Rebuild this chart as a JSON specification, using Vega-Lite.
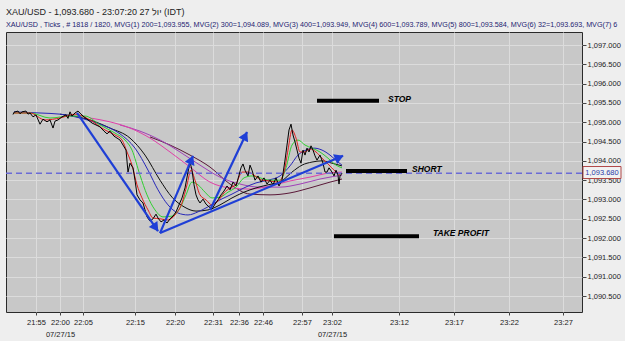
{
  "$schema": "https://vega.github.io/schema/vega-lite/v6.json",
  "width": 576,
  "height": 280,
  "autosize": "none",
  "padding": {"left": 6, "top": 32, "right": 43, "bottom": 29},
  "background": "#eeeeee",
  "config": {
    "view": {"fill": "#c8c8c8", "stroke": "#2a2a2a", "strokeWidth": 1},
    "font": "Liberation Sans"
  },
  "title": {
    "text": "\u00a0\u00a0\u00a0XAU/USD - 1,093.680 - 23:07:20 27 יול (IDT)",
    "subtitle": "XAU/USD , Ticks , # 1818 / 1820, MVG(1) 200=1,093.955, MVG(2) 300=1,094.089, MVG(3) 400=1,093.949, MVG(4) 600=1,093.789, MVG(5) 800=1,093.584, MVG(6) 32=1,093.693, MVG(7) 6",
    "anchor": "start",
    "frame": "group",
    "font": "Liberation Sans",
    "fontSize": 9,
    "fontWeight": "normal",
    "color": "#222222",
    "subtitleFont": "Liberation Sans",
    "subtitleFontSize": 7.2,
    "subtitleColor": "#1c1c70",
    "subtitlePadding": 4,
    "offset": 4
  },
  "datasets": {
    "ma": [
      {"s":"ma800","n":150,"v":1094.62},{"s":"ma800","n":170,"v":1094.41},{"s":"ma800","n":190,"v":1094.15},{"s":"ma800","n":210,"v":1093.84},{"s":"ma800","n":230,"v":1093.40},{"s":"ma800","n":250,"v":1093.14},{"s":"ma800","n":270,"v":1093.12},{"s":"ma800","n":290,"v":1093.17},{"s":"ma800","n":310,"v":1093.30},{"s":"ma800","n":330,"v":1093.45},{"s":"ma800","n":342,"v":1093.53},
      {"s":"ma600","n":120,"v":1094.93},{"s":"ma600","n":140,"v":1094.77},{"s":"ma600","n":160,"v":1094.54},{"s":"ma600","n":180,"v":1094.23},{"s":"ma600","n":200,"v":1093.89},{"s":"ma600","n":220,"v":1093.58},{"s":"ma600","n":240,"v":1093.40},{"s":"ma600","n":260,"v":1093.32},{"s":"ma600","n":280,"v":1093.32},{"s":"ma600","n":300,"v":1093.40},{"s":"ma600","n":320,"v":1093.53},{"s":"ma600","n":342,"v":1093.63},
      {"s":"ma400","n":90,"v":1095.11},{"s":"ma400","n":110,"v":1095.01},{"s":"ma400","n":130,"v":1094.85},{"s":"ma400","n":150,"v":1094.59},{"s":"ma400","n":170,"v":1094.23},{"s":"ma400","n":190,"v":1093.84},{"s":"ma400","n":210,"v":1093.45},{"s":"ma400","n":230,"v":1093.30},{"s":"ma400","n":250,"v":1093.27},{"s":"ma400","n":270,"v":1093.35},{"s":"ma400","n":290,"v":1093.48},{"s":"ma400","n":310,"v":1093.58},{"s":"ma400","n":330,"v":1093.69},{"s":"ma400","n":342,"v":1093.71},
      {"s":"ma300","n":60,"v":1095.21},{"s":"ma300","n":90,"v":1095.06},{"s":"ma300","n":110,"v":1094.85},{"s":"ma300","n":130,"v":1094.59},{"s":"ma300","n":145,"v":1094.15},{"s":"ma300","n":160,"v":1093.50},{"s":"ma300","n":172,"v":1093.06},{"s":"ma300","n":184,"v":1092.81},{"s":"ma300","n":196,"v":1092.70},{"s":"ma300","n":208,"v":1092.73},{"s":"ma300","n":220,"v":1092.86},{"s":"ma300","n":232,"v":1093.04},{"s":"ma300","n":244,"v":1093.19},{"s":"ma300","n":256,"v":1093.30},{"s":"ma300","n":268,"v":1093.38},{"s":"ma300","n":280,"v":1093.45},{"s":"ma300","n":292,"v":1093.71},{"s":"ma300","n":302,"v":1093.89},{"s":"ma300","n":312,"v":1093.97},{"s":"ma300","n":322,"v":1094.00},{"s":"ma300","n":332,"v":1093.94},{"s":"ma300","n":342,"v":1093.87},
      {"s":"ma200","n":14,"v":1095.27},{"s":"ma200","n":40,"v":1095.24},{"s":"ma200","n":60,"v":1095.21},{"s":"ma200","n":80,"v":1095.11},{"s":"ma200","n":100,"v":1094.95},{"s":"ma200","n":120,"v":1094.70},{"s":"ma200","n":135,"v":1094.33},{"s":"ma200","n":148,"v":1093.76},{"s":"ma200","n":158,"v":1093.25},{"s":"ma200","n":168,"v":1092.86},{"s":"ma200","n":178,"v":1092.65},{"s":"ma200","n":188,"v":1092.60},{"s":"ma200","n":198,"v":1092.68},{"s":"ma200","n":208,"v":1092.81},{"s":"ma200","n":220,"v":1092.99},{"s":"ma200","n":232,"v":1093.14},{"s":"ma200","n":244,"v":1093.30},{"s":"ma200","n":256,"v":1093.43},{"s":"ma200","n":268,"v":1093.50},{"s":"ma200","n":280,"v":1093.61},{"s":"ma200","n":290,"v":1093.87},{"s":"ma200","n":298,"v":1094.15},{"s":"ma200","n":306,"v":1094.28},{"s":"ma200","n":314,"v":1094.33},{"s":"ma200","n":322,"v":1094.28},{"s":"ma200","n":330,"v":1094.15},{"s":"ma200","n":338,"v":1093.97},{"s":"ma200","n":342,"v":1093.89},
      {"s":"ma64","n":14,"v":1095.24},{"s":"ma64","n":30,"v":1095.24},{"s":"ma64","n":50,"v":1095.11},{"s":"ma64","n":70,"v":1095.16},{"s":"ma64","n":85,"v":1095.16},{"s":"ma64","n":100,"v":1094.93},{"s":"ma64","n":115,"v":1094.72},{"s":"ma64","n":125,"v":1094.54},{"s":"ma64","n":132,"v":1094.28},{"s":"ma64","n":140,"v":1093.63},{"s":"ma64","n":147,"v":1093.12},{"s":"ma64","n":155,"v":1092.73},{"s":"ma64","n":163,"v":1092.55},{"s":"ma64","n":172,"v":1092.57},{"s":"ma64","n":180,"v":1092.78},{"s":"ma64","n":186,"v":1093.12},{"s":"ma64","n":192,"v":1093.45},{"s":"ma64","n":198,"v":1093.38},{"s":"ma64","n":205,"v":1093.19},{"s":"ma64","n":212,"v":1093.04},{"s":"ma64","n":220,"v":1093.06},{"s":"ma64","n":228,"v":1093.19},{"s":"ma64","n":236,"v":1093.32},{"s":"ma64","n":244,"v":1093.56},{"s":"ma64","n":252,"v":1093.61},{"s":"ma64","n":260,"v":1093.56},{"s":"ma64","n":270,"v":1093.50},{"s":"ma64","n":280,"v":1093.50},{"s":"ma64","n":286,"v":1093.82},{"s":"ma64","n":292,"v":1094.41},{"s":"ma64","n":298,"v":1094.54},{"s":"ma64","n":305,"v":1094.41},{"s":"ma64","n":312,"v":1094.33},{"s":"ma64","n":320,"v":1094.23},{"s":"ma64","n":328,"v":1094.07},{"s":"ma64","n":336,"v":1093.89},{"s":"ma64","n":342,"v":1093.82},
      {"s":"ma32","n":14,"v":1095.24},{"s":"ma32","n":30,"v":1095.24},{"s":"ma32","n":45,"v":1095.06},{"s":"ma32","n":60,"v":1095.11},{"s":"ma32","n":75,"v":1095.21},{"s":"ma32","n":90,"v":1095.06},{"s":"ma32","n":105,"v":1094.80},{"s":"ma32","n":115,"v":1094.67},{"s":"ma32","n":122,"v":1094.54},{"s":"ma32","n":127,"v":1094.23},{"s":"ma32","n":132,"v":1093.89},{"s":"ma32","n":137,"v":1093.38},{"s":"ma32","n":142,"v":1093.04},{"s":"ma32","n":148,"v":1092.73},{"s":"ma32","n":153,"v":1092.52},{"s":"ma32","n":160,"v":1092.50},{"s":"ma32","n":168,"v":1092.47},{"s":"ma32","n":175,"v":1092.60},{"s":"ma32","n":182,"v":1092.91},{"s":"ma32","n":187,"v":1093.38},{"s":"ma32","n":191,"v":1093.76},{"s":"ma32","n":195,"v":1093.50},{"s":"ma32","n":200,"v":1093.12},{"s":"ma32","n":206,"v":1092.99},{"s":"ma32","n":212,"v":1092.86},{"s":"ma32","n":218,"v":1092.96},{"s":"ma32","n":224,"v":1093.17},{"s":"ma32","n":230,"v":1093.30},{"s":"ma32","n":236,"v":1093.40},{"s":"ma32","n":242,"v":1093.71},{"s":"ma32","n":248,"v":1093.71},{"s":"ma32","n":255,"v":1093.61},{"s":"ma32","n":262,"v":1093.50},{"s":"ma32","n":270,"v":1093.48},{"s":"ma32","n":278,"v":1093.45},{"s":"ma32","n":284,"v":1093.71},{"s":"ma32","n":288,"v":1094.28},{"s":"ma32","n":292,"v":1094.80},{"s":"ma32","n":296,"v":1094.59},{"s":"ma32","n":300,"v":1094.23},{"s":"ma32","n":305,"v":1094.23},{"s":"ma32","n":310,"v":1094.31},{"s":"ma32","n":316,"v":1094.23},{"s":"ma32","n":322,"v":1094.07},{"s":"ma32","n":328,"v":1093.92},{"s":"ma32","n":334,"v":1093.76},{"s":"ma32","n":340,"v":1093.63}
    ],
    "price": [
      {"n":13,"v":1095.20},{"n":14,"v":1095.26},{"n":18,"v":1095.29},{"n":20,"v":1095.22},{"n":22,"v":1095.27},{"n":26,"v":1095.29},{"n":28,"v":1095.21},{"n":30,"v":1095.24},{"n":33,"v":1095.14},{"n":36,"v":1095.19},{"n":40,"v":1094.95},{"n":43,"v":1095.08},{"n":47,"v":1095.01},{"n":50,"v":1095.06},{"n":53,"v":1094.85},{"n":55,"v":1095.03},{"n":58,"v":1095.06},{"n":62,"v":1095.14},{"n":66,"v":1095.19},{"n":68,"v":1095.10},{"n":70,"v":1095.27},{"n":72,"v":1095.16},{"n":75,"v":1095.24},{"n":78,"v":1095.29},{"n":81,"v":1095.21},{"n":84,"v":1095.14},{"n":88,"v":1095.06},{"n":92,"v":1094.98},{"n":96,"v":1094.93},{"n":100,"v":1094.88},{"n":104,"v":1094.77},{"n":107,"v":1094.70},{"n":110,"v":1094.77},{"n":114,"v":1094.64},{"n":117,"v":1094.59},{"n":120,"v":1094.54},{"n":123,"v":1094.41},{"n":126,"v":1094.28},{"n":128,"v":1093.71},{"n":130,"v":1093.94},{"n":133,"v":1093.82},{"n":135,"v":1093.50},{"n":137,"v":1093.12},{"n":140,"v":1092.99},{"n":143,"v":1092.91},{"n":145,"v":1092.73},{"n":147,"v":1092.55},{"n":150,"v":1092.44},{"n":153,"v":1092.50},{"n":156,"v":1092.62},{"n":158,"v":1092.52},{"n":161,"v":1092.42},{"n":164,"v":1092.47},{"n":167,"v":1092.39},{"n":170,"v":1092.50},{"n":173,"v":1092.57},{"n":176,"v":1092.68},{"n":179,"v":1092.86},{"n":182,"v":1093.04},{"n":185,"v":1093.30},{"n":188,"v":1093.71},{"n":190,"v":1093.97},{"n":192,"v":1093.76},{"n":194,"v":1093.38},{"n":196,"v":1093.12},{"n":198,"v":1092.99},{"n":200,"v":1092.91},{"n":203,"v":1093.01},{"n":206,"v":1092.88},{"n":209,"v":1092.81},{"n":212,"v":1092.75},{"n":215,"v":1092.88},{"n":218,"v":1092.99},{"n":221,"v":1093.12},{"n":224,"v":1093.22},{"n":227,"v":1093.35},{"n":230,"v":1093.25},{"n":233,"v":1093.45},{"n":236,"v":1093.35},{"n":239,"v":1093.63},{"n":241,"v":1093.82},{"n":243,"v":1093.92},{"n":245,"v":1093.76},{"n":248,"v":1093.61},{"n":250,"v":1093.89},{"n":252,"v":1093.76},{"n":255,"v":1093.50},{"n":258,"v":1093.61},{"n":261,"v":1093.45},{"n":264,"v":1093.56},{"n":267,"v":1093.40},{"n":270,"v":1093.50},{"n":273,"v":1093.38},{"n":276,"v":1093.56},{"n":279,"v":1093.35},{"n":282,"v":1093.50},{"n":285,"v":1094.02},{"n":287,"v":1094.41},{"n":289,"v":1094.80},{"n":291,"v":1094.95},{"n":293,"v":1094.67},{"n":295,"v":1094.49},{"n":297,"v":1094.28},{"n":299,"v":1094.07},{"n":301,"v":1093.94},{"n":303,"v":1094.28},{"n":305,"v":1094.15},{"n":307,"v":1094.33},{"n":309,"v":1094.23},{"n":311,"v":1094.39},{"n":313,"v":1094.28},{"n":315,"v":1094.13},{"n":317,"v":1094.02},{"n":320,"v":1094.15},{"n":323,"v":1093.94},{"n":325,"v":1093.71},{"n":327,"v":1093.71},{"n":329,"v":1093.82},{"n":332,"v":1093.71},{"n":334,"v":1093.61},{"n":336,"v":1093.76},{"n":338,"v":1093.63},{"n":339,"v":1093.40},{"n":340,"v":1093.61},{"n":342,"v":1093.68}
    ],
    "arrows": [
      {"a":"a1","n":77,"v":1095.24},{"a":"a1","n":158,"v":1092.18},
      {"a":"a2","n":160,"v":1092.13},{"a":"a2","n":193,"v":1094.13},
      {"a":"a3","n":210,"v":1092.73},{"a":"a3","n":247,"v":1094.75},
      {"a":"a4","n":160,"v":1092.13},{"a":"a4","n":343,"v":1094.13}
    ],
    "heads": [
      {"a":"a1","n":155.7,"v":1092.27,"heading":145},
      {"a":"a2","n":191.4,"v":1094.03,"heading":23},
      {"a":"a3","n":245.3,"v":1094.65,"heading":26},
      {"a":"a4","n":339.3,"v":1094.09,"heading":67}
    ],
    "levels": [
      {"label":"STOP","from":317,"to":379,"v":1095.56,"tn":388,"tv":1095.60},
      {"label":"SHORT","from":346,"to":407,"v":1093.74,"tn":412,"tv":1093.79},
      {"label":"TAKE  PROFIT","from":334,"to":419,"v":1092.05,"tn":433,"tv":1092.13}
    ],
    "last": [
      {"label":"1,093.680","from":583,"to":621,"hi":1093.854,"lo":1093.543,"v":1093.68,"mid":602}
    ]
  },
  "layer": [
    {
      "data": {"name": "ma"},
      "mark": {"type": "line", "strokeWidth": 1, "interpolate": "monotone"},
      "encoding": {
        "x": {
          "field": "n", "type": "quantitative",
          "scale": {"domain": [6, 582], "nice": false, "zero": false},
          "axis": {
            "title": null,
            "values": [36, 60, 83, 135, 175, 213, 239, 263, 302, 332, 399, 454, 509, 563],
            "tickCount": 40,
            "labelExpr": "datum.value == 60 ? ['22:00', '07/27/15'] : datum.value == 332 ? ['23:02', '07/27/15'] : ['21:55','22:00','22:05','22:15','22:20','22:31','22:36','22:46','22:57','23:02','23:12','23:17','23:22','23:27'][indexof([36,60,83,135,175,213,239,263,302,332,399,454,509,563], datum.value)]",
            "grid": true, "gridColor": "#dcdcdc", "gridWidth": 1,
            "domain": false, "tickSize": 3, "tickColor": "#444444",
            "labelFont": "Liberation Sans", "labelFontSize": 7.5, "labelColor": "#222222",
            "labelPadding": 3, "labelLineHeight": 12, "labelBaseline": "top",
            "labelFlush": false, "labelOverlap": false
          }
        },
        "y": {
          "field": "v", "type": "quantitative",
          "scale": {"domain": [1090.087, 1097.337], "nice": false, "zero": false},
          "axis": {
            "title": null, "orient": "right",
            "values": [1090.5, 1091, 1091.5, 1092, 1092.5, 1093, 1093.5, 1094, 1094.5, 1095, 1095.5, 1096, 1096.5, 1097],
            "tickCount": 40,
            "format": ",.3f",
            "grid": true, "gridColor": "#dcdcdc", "gridWidth": 1,
            "domain": false, "tickSize": 4, "tickColor": "#444444",
            "labelFont": "Liberation Sans", "labelFontSize": 7.5, "labelColor": "#222222",
            "labelPadding": 1, "labelBaseline": "middle", "labelFlush": false, "labelOverlap": false
          }
        },
        "color": {
          "field": "s", "type": "nominal", "legend": null,
          "scale": {
            "domain": ["ma800", "ma600", "ma400", "ma300", "ma200", "ma64", "ma32"],
            "range": ["#5a1838", "#a040b8", "#e040a8", "#101010", "#2828b8", "#30d030", "#e02020"]
          }
        },
        "detail": {"field": "s"}
      }
    },
    {
      "data": {"values": [{"v": 1093.68}]},
      "mark": {"type": "rule", "color": "#6b6bd6", "strokeDash": [6, 4], "strokeWidth": 1.5},
      "encoding": {"y": {"field": "v", "type": "quantitative"}}
    },
    {
      "data": {"name": "price"},
      "mark": {"type": "line", "color": "#000000", "strokeWidth": 1},
      "encoding": {
        "x": {"field": "n", "type": "quantitative"},
        "y": {"field": "v", "type": "quantitative"}
      }
    },
    {
      "data": {"name": "arrows"},
      "mark": {"type": "line", "color": "#1f3fd6", "strokeWidth": 2.2},
      "encoding": {
        "x": {"field": "n", "type": "quantitative"},
        "y": {"field": "v", "type": "quantitative"},
        "detail": {"field": "a"}
      }
    },
    {
      "data": {"name": "heads"},
      "mark": {"type": "point", "shape": "triangle-up", "filled": true, "color": "#1f3fd6", "size": 110, "opacity": 1},
      "encoding": {
        "x": {"field": "n", "type": "quantitative"},
        "y": {"field": "v", "type": "quantitative"},
        "angle": {"field": "heading", "type": "quantitative", "scale": null}
      }
    },
    {
      "data": {"name": "levels"},
      "mark": {"type": "rule", "color": "#000000", "strokeWidth": 4},
      "encoding": {
        "x": {"field": "from", "type": "quantitative"},
        "x2": {"field": "to"},
        "y": {"field": "v", "type": "quantitative"}
      }
    },
    {
      "data": {"name": "levels"},
      "mark": {"type": "text", "align": "left", "baseline": "middle", "fontStyle": "italic", "fontWeight": "bold", "fontSize": 8.5, "font": "Liberation Sans", "color": "#000000"},
      "encoding": {
        "x": {"field": "tn", "type": "quantitative"},
        "y": {"field": "tv", "type": "quantitative"},
        "text": {"field": "label"}
      }
    },
    {
      "data": {"name": "last"},
      "mark": {"type": "rect", "fill": "#f2f2f2", "stroke": "#b04848", "strokeWidth": 1},
      "encoding": {
        "x": {"field": "from", "type": "quantitative"},
        "x2": {"field": "to"},
        "y": {"field": "hi", "type": "quantitative"},
        "y2": {"field": "lo"}
      }
    },
    {
      "data": {"name": "last"},
      "mark": {"type": "text", "align": "center", "baseline": "middle", "fontSize": 7.5, "font": "Liberation Sans", "color": "#2a3aa8"},
      "encoding": {
        "x": {"field": "mid", "type": "quantitative"},
        "y": {"field": "v", "type": "quantitative"},
        "text": {"field": "label"}
      }
    }
  ]
}
